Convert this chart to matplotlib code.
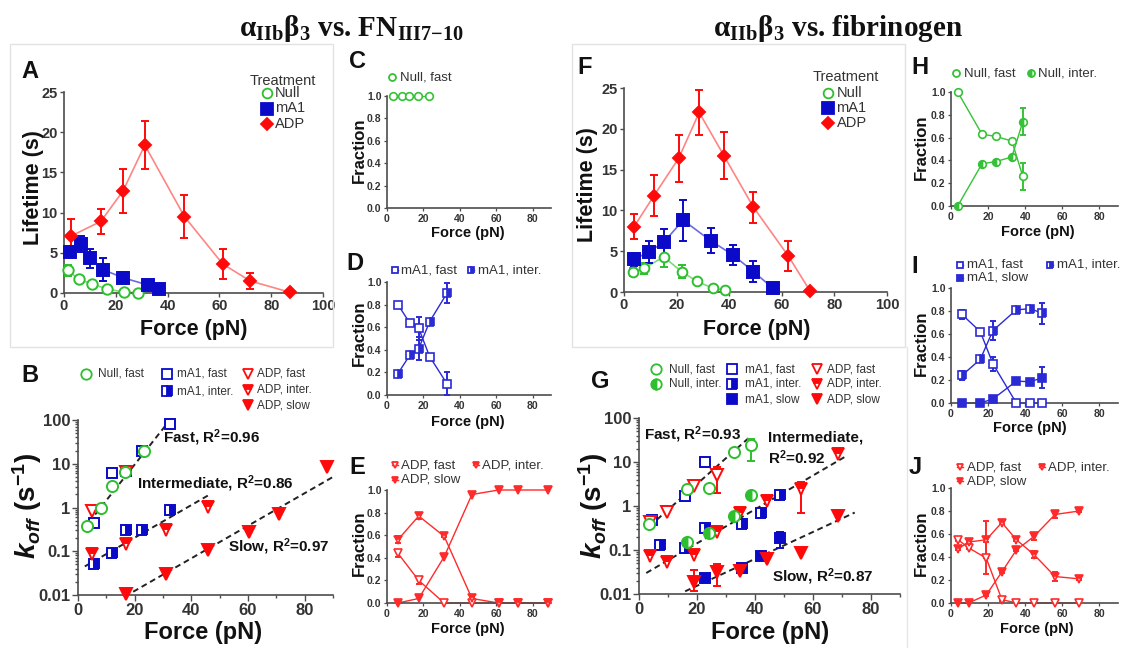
import numpy as np
import matplotlib
matplotlib.use("Agg")
import matplotlib.pyplot as plt
from matplotlib.lines import Line2D
from matplotlib.patches import Rectangle
from matplotlib.ticker import FixedLocator, LogLocator, NullFormatter

W, H = 1125, 648

plt.rcParams['font.family'] = ['Liberation Sans', 'DejaVu Sans']
plt.rcParams['font.weight'] = 'bold'
plt.rcParams['mathtext.fontset'] = 'custom'
plt.rcParams['mathtext.it'] = 'Liberation Sans:style=italic:weight=bold'
plt.rcParams['mathtext.rm'] = 'Liberation Sans:weight=bold'
plt.rcParams['mathtext.bf'] = 'Liberation Sans:weight=bold'

GREEN, GREEN_L = '#2dbf2d', '#7fd97f'
BLUE, BLUE_L = '#0a0ac8', '#6b6be0'
RED, RED_L = '#ff0a0a', '#ff8585'
AXC = '#4d4d4d'

# ---------------- FN(III7-10): lifetime vs force ----------------
a_null_x = [1.5, 5.8, 11.0, 16.6, 23.2, 28.4]
a_null_y = [2.8, 1.7, 1.1, 0.5, 0.1, 0.05]
a_null_err = [0.7, 0.2, 0.2, 0.1, 0.0, 0.0]
a_mA1_x = [2.2, 6.5, 9.9, 15.1, 22.8, 32.3, 36.8]
a_mA1_y = [5.1, 6.1, 4.3, 2.9, 1.9, 1.0, 0.5]
a_mA1_err = [0.4, 1.0, 1.2, 1.4, 0.7, 0.5, 0.2]
a_adp_x = [2.8, 14.2, 22.8, 31.2, 46.5, 61.3, 71.9, 87.1]
a_adp_y = [7.1, 8.9, 12.7, 18.4, 9.5, 3.6, 1.5, 0.1]
a_adp_err = [2.1, 1.6, 2.7, 3.0, 2.7, 1.9, 1.0, 0.0]

# ---------------- FN(III7-10): off-rates ----------------
b_null_fast_x = [3.0, 8.2, 12.0, 16.6, 23.2]
b_null_fast_y = [0.38, 0.95, 3.1, 6.6, 19.5]
b_mA1_x = [5.6, 12.0, 17.0, 22.6, 32.6]
b_mA1_fast_y = [0.44, 6.0, 7.0, 20.0, 82.0]
b_mA1_inter_y = [0.052, 0.093, 0.30, 0.30, 0.90]
b_adp_fast_x = [5.0, 17.0]
b_adp_fast_y = [0.85, 6.5]
b_adp_inter_x = [5.0, 17.0, 31.0, 46.0]
b_adp_inter_y = [0.085, 0.15, 0.31, 1.05]
b_adp_slow_x = [17.0, 31.0, 46.0, 60.5, 71.0, 88.0]
b_adp_slow_y = [0.0105, 0.031, 0.105, 0.28, 0.70, 8.5]
b_fast_fit_x, b_fast_fit_y = [1.8, 32.0], [0.31, 92.0]
b_inter_fit_x, b_inter_fit_y = [2.4, 46.0], [0.045, 1.9]
b_slow_fit_x, b_slow_fit_y = [16.5, 90.0], [0.0092, 5.0]

# ---------------- FN(III7-10): state fractions ----------------
c_x = [3.1, 8.2, 12.2, 16.8, 23.2]
c_fast = [1.0, 1.0, 1.0, 1.0, 1.0]
d_x = [6.0, 12.4, 17.4, 23.4, 32.9]
d_fast = [0.80, 0.64, 0.59, 0.34, 0.10]
d_fast_err = [0.01, 0.02, 0.10, 0.02, 0.10]
d_inter = [0.19, 0.35, 0.41, 0.65, 0.90]
d_inter_err = [0.01, 0.02, 0.10, 0.02, 0.09]
e_x = [6.0, 17.4, 31.4, 46.6, 61.2, 71.8, 88.6]
e_fast = [0.44, 0.20, 0.0, 0.0, 0.0, 0.0, 0.0]
e_fast_err = [0.03, 0.03, 0.0, 0.0, 0.0, 0.0, 0.0]
e_inter = [0.56, 0.77, 0.59, 0.04, 0.0, 0.0, 0.0]
e_inter_err = [0.03, 0.03, 0.01, 0.01, 0.0, 0.0, 0.0]
e_slow = [0.0, 0.04, 0.41, 0.96, 1.0, 1.0, 1.0]

# ---------------- fibrinogen: lifetime vs force ----------------
f_null_x = [3.4, 7.6, 15.1, 21.9, 27.8, 33.9, 38.4]
f_null_y = [2.4, 2.9, 4.3, 2.5, 1.3, 0.45, 0.25]
f_null_err = [0.5, 0.7, 1.2, 0.8, 0.2, 0.1, 0.1]
f_mA1_x = [3.8, 9.4, 15.1, 22.5, 32.9, 41.6, 49.2, 56.5]
f_mA1_y = [4.0, 4.9, 6.1, 8.8, 6.3, 4.5, 2.5, 0.5]
f_mA1_err = [0.8, 1.3, 1.6, 2.5, 1.5, 1.2, 1.3, 0.1]
f_adp_x = [3.8, 11.4, 20.8, 28.6, 38.0, 49.2, 62.5, 70.8]
f_adp_y = [8.0, 11.8, 16.4, 22.0, 16.7, 10.4, 4.4, 0.1]
f_adp_err = [1.5, 2.5, 2.9, 2.8, 2.9, 1.9, 1.8, 0.0]

# ---------------- fibrinogen: off-rates ----------------
g_null_x = [3.6, 16.7, 24.2, 32.8, 38.7]
g_null_fast_y = [0.39, 2.4, 2.5, 17.0, 24.0]
g_null_fast_lo = [0.0, 0.0, 0.0, 0.0, 13.5]
g_null_fast_hi = [0.0, 0.0, 0.0, 0.0, 10.0]
g_null_inter_x = [16.7, 24.2, 32.8, 38.7]
g_null_inter_y = [0.15, 0.24, 0.60, 1.75]
g_mA1_fast_x = [4.6, 15.9, 22.8]
g_mA1_fast_y = [0.48, 1.7, 10.0]
g_mA1_inter_x = [7.4, 15.9, 22.8, 35.6, 42.2, 48.7]
g_mA1_inter_y = [0.13, 0.11, 0.32, 0.39, 0.68, 1.8]
g_mA1_slow_x = [22.8, 35.6, 42.2, 48.7]
g_mA1_slow_y = [0.023, 0.038, 0.074, 0.19]
g_mA1_slow_lo = [0.0, 0.0, 0.0, 0.08]
g_mA1_slow_hi = [0.0, 0.0, 0.0, 0.06]
g_adp_fast_x = [3.7, 9.7, 18.8, 26.9]
g_adp_fast_y = [0.44, 0.74, 2.9, 5.0]
g_adp_fast_lo = [0.0, 0.0, 0.0, 3.0]
g_adp_fast_hi = [0.0, 0.0, 0.0, 2.5]
g_adp_inter_x = [3.7, 9.7, 18.8, 26.9, 35.0, 44.3, 55.7, 68.6]
g_adp_inter_y = [0.074, 0.053, 0.077, 0.26, 0.68, 1.3, 2.4, 15.0]
g_adp_inter_lo = [0.0, 0.0, 0.0, 0.0, 0.0, 0.0, 1.7, 0.0]
g_adp_inter_hi = [0.0, 0.0, 0.0, 0.0, 0.0, 0.0, 1.1, 0.0]
g_adp_slow_x = [18.8, 26.9, 35.0, 44.3, 55.7, 68.6]
g_adp_slow_y = [0.019, 0.032, 0.034, 0.062, 0.085, 0.58]
g_adp_slow_lo = [0.007, 0.017, 0.0, 0.0, 0.0, 0.0]
g_adp_slow_hi = [0.016, 0.016, 0.0, 0.0, 0.0, 0.0]
g_fast_fit_x, g_fast_fit_y = [3.7, 38.5], [0.35, 38.5]
g_inter_fit_x, g_inter_fit_y = [2.5, 71.0], [0.030, 13.1]
g_slow_fit_x, g_slow_fit_y = [15.9, 74.4], [0.0115, 0.71]

# ---------------- fibrinogen: state fractions ----------------
h_x = [3.6, 16.7, 24.2, 32.8, 38.7]
h_fast = [1.0, 0.63, 0.61, 0.57, 0.26]
h_fast_err = [0.0, 0.01, 0.01, 0.01, 0.12]
h_inter = [0.0, 0.37, 0.39, 0.43, 0.74]
h_inter_err = [0.0, 0.01, 0.01, 0.01, 0.12]
i_x = [5.9, 15.8, 22.6, 35.2, 42.7, 49.3]
i_fast = [0.77, 0.62, 0.34, 0.0, 0.0, 0.0]
i_fast_err = [0.04, 0.01, 0.06, 0.0, 0.0, 0.0]
i_inter = [0.24, 0.38, 0.63, 0.81, 0.82, 0.78]
i_inter_err = [0.04, 0.02, 0.08, 0.02, 0.02, 0.09]
i_slow = [0.0, 0.0, 0.035, 0.19, 0.185, 0.22]
i_slow_err = [0.0, 0.0, 0.01, 0.01, 0.01, 0.09]
j_x = [3.8, 9.5, 19.0, 27.4, 35.2, 44.8, 56.1, 69.1]
j_fast = [0.55, 0.48, 0.39, 0.03, 0.0, 0.0, 0.0, 0.0]
j_fast_err = [0.01, 0.01, 0.14, 0.01, 0.0, 0.0, 0.0, 0.0]
j_inter = [0.47, 0.53, 0.55, 0.70, 0.55, 0.42, 0.23, 0.21]
j_inter_err = [0.01, 0.01, 0.16, 0.01, 0.01, 0.03, 0.04, 0.01]
j_slow = [0.0, 0.0, 0.07, 0.27, 0.46, 0.58, 0.77, 0.80]
j_slow_err = [0.0, 0.0, 0.01, 0.01, 0.01, 0.03, 0.03, 0.01]

fig = plt.figure(figsize=(W / 100, H / 100), dpi=100)
fig.patch.set_facecolor('white')


def fx(x):
    return x / W


def fy(y):
    return 1 - y / H


def make_ax(l, t, r, b, size):
    ax = fig.add_axes([fx(l), fy(b), (r - l) / W, (b - t) / H])
    ax.patch.set_alpha(0)
    for s in ('top', 'right'):
        ax.spines[s].set_visible(False)
    for s in ('left', 'bottom'):
        ax.spines[s].set_color(AXC)
        ax.spines[s].set_linewidth(1.2)
    ax.tick_params(which='both', direction='out', color=AXC, labelcolor='#333333',
                   labelsize=size, width=1.0, length=3, pad=1.5)
    return ax


def errbars(ax, x, y, lo, hi, color, cap, lw=1.4):
    x, y, lo, hi = map(np.asarray, (x, y, lo, hi))
    keep = (lo > 0) | (hi > 0)
    if keep.any():
        ax.errorbar(x[keep], y[keep], yerr=[lo[keep], hi[keep]], fmt='none',
                    ecolor=color, elinewidth=lw, capsize=cap, capthick=lw, zorder=3)


def series(ax, x, y, color, line_color=None, err=None, marker='o', ms=6,
           fill='white', fillstyle='full', mew=1.4, lw=1.2, cap=3.0):
    if err is not None:
        errbars(ax, x, y, err, err, color, cap)
    if line_color is not None:
        ax.plot(x, y, color=line_color, lw=lw, zorder=2, clip_on=False)
    ax.plot(x, y, ls='none', marker=marker, ms=ms, mec=color, mew=mew,
            mfc=(color if fillstyle != 'full' else fill), fillstyle=fillstyle,
            markerfacecoloralt='white', zorder=4, clip_on=False)


def fig_marker(x, y, color, marker, ms, fill='white', fillstyle='full', mew=1.3, seg=0):
    if seg:
        fig.add_artist(Line2D([fx(x - seg), fx(x + seg)], [fy(y), fy(y)], color=color,
                              lw=1.0, transform=fig.transFigure))
    fig.add_artist(Line2D([fx(x)], [fy(y)], ls='none', marker=marker, ms=ms, mec=color,
                          mew=mew, mfc=(color if fillstyle != 'full' else fill),
                          fillstyle=fillstyle, markerfacecoloralt='white',
                          transform=fig.transFigure))


def ftext(x, y, s, size, ha='left', va='center', weight='bold', color='#111111',
          rotation=0, **kw):
    fig.text(fx(x), fy(y), s, fontsize=size, ha=ha, va=va, weight=weight, color=color,
             rotation=rotation, **kw)


def lifetime_axes(l, t, r, b):
    ax = make_ax(l, t, r, b, 10.5)
    ax.set_xlim(0, 100)
    ax.set_ylim(0, 25)
    ax.set_xticks(np.arange(0, 101, 20))
    ax.set_yticks(np.arange(0, 26, 5))
    return ax


def koff_axes(l, t, r, b):
    ax = make_ax(l, t, r, b, 12)
    ax.set_xlim(0, 90)
    ax.set_yscale('log')
    ax.set_ylim(0.01, 100)
    ax.set_xticks([0, 20, 40, 60, 80])
    ax.xaxis.set_minor_locator(FixedLocator(np.arange(0, 91, 10)))
    ax.yaxis.set_major_locator(FixedLocator([0.01, 0.1, 1, 10, 100]))
    ax.set_yticklabels(['0.01', '0.1', '1', '10', '100'])
    ax.yaxis.set_minor_locator(LogLocator(base=10, subs=np.arange(2, 10)))
    ax.yaxis.set_minor_formatter(NullFormatter())
    ax.tick_params(which='major', length=4)
    ax.tick_params(which='minor', length=2)
    return ax


def frac_axes(l, t, r, b):
    ax = make_ax(l, t, r, b, 7.5)
    ax.set_xlim(0, 90)
    ax.set_ylim(0, 1.0)
    ax.set_xticks([0, 20, 40, 60, 80])
    ax.set_yticks(np.arange(0, 1.01, 0.2))
    ax.set_yticklabels(['0.0', '0.2', '0.4', '0.6', '0.8', '1.0'])
    ax.tick_params(length=2.5, width=0.9)
    return ax


def fit_line(ax, x, y):
    ax.plot(x, y, ls=(0, (3, 2)), color='#222222', lw=1.4, zorder=1)


# faint frames around the lifetime panels
fig.add_artist(Rectangle((fx(10), fy(347)), 323 / W, 303 / H, transform=fig.transFigure,
                         fill=False, ec='#e2e2e2', lw=1.0))
fig.add_artist(Rectangle((fx(572), fy(347)), 333 / W, 303 / H, transform=fig.transFigure,
                         fill=False, ec='#e2e2e2', lw=1.0))
fig.add_artist(Line2D([fx(907), fx(907)], [fy(347), fy(648)], color='#e6e6e6', lw=1.0,
                      transform=fig.transFigure))

# titles
ftext(352, 28, r'α$_{\mathregular{IIb}}$β$_{\mathregular{3}}$ vs. FN$_{\mathregular{III7{-}10}}$',
      21, ha='center', family='Liberation Serif')
ftext(838, 28, r'α$_{\mathregular{IIb}}$β$_{\mathregular{3}}$ vs. fibrinogen',
      21, ha='center', family='Liberation Serif')

# ---------- panel A ----------
ax = lifetime_axes(64, 92, 323, 293)
series(ax, a_null_x, a_null_y, GREEN, GREEN_L, a_null_err, 'o', 7.5)
series(ax, a_mA1_x, a_mA1_y, BLUE, BLUE_L, a_mA1_err, 's', 9, fill=BLUE)
series(ax, a_adp_x, a_adp_y, RED, RED_L, a_adp_err, 'D', 6, fill=RED)
ftext(30, 72, 'A', 17, ha='center')
ftext(33, 188, 'Lifetime (s)', 15.5, ha='center', rotation=90)
ftext(194, 330, 'Force (pN)', 15.5, ha='center')
ftext(250, 81, 'Treatment', 10.5, weight='normal', color='#333333')
fig_marker(266.5, 93, GREEN, 'o', 7)
fig_marker(266.5, 108.5, BLUE, 's', 8, fill=BLUE)
fig_marker(266.5, 124, RED, 'D', 6, fill=RED)
for yy, s in ((93, 'Null'), (108.5, 'mA1'), (124, 'ADP')):
    ftext(275, yy, s, 10.5, weight='normal', color='#333333')

# ---------- panel F ----------
ax = lifetime_axes(624, 88, 887, 292)
series(ax, f_null_x, f_null_y, GREEN, GREEN_L, f_null_err, 'o', 7)
series(ax, f_mA1_x, f_mA1_y, BLUE, BLUE_L, f_mA1_err, 's', 9, fill=BLUE)
series(ax, f_adp_x, f_adp_y, RED, RED_L, f_adp_err, 'D', 6, fill=RED)
ftext(585, 68, 'F', 17, ha='center')
ftext(588, 185, 'Lifetime (s)', 15.5, ha='center', rotation=90)
ftext(757, 330, 'Force (pN)', 15.5, ha='center')
ftext(813, 77, 'Treatment', 10.5, weight='normal', color='#333333')
fig_marker(828, 93, GREEN, 'o', 7)
fig_marker(828, 108, BLUE, 's', 8, fill=BLUE)
fig_marker(828, 123, RED, 'D', 6, fill=RED)
for yy, s in ((93, 'Null'), (108, 'mA1'), (123, 'ADP')):
    ftext(836.5, yy, s, 10.5, weight='normal', color='#333333')

# ---------- panel B ----------
ax = koff_axes(78, 420, 333, 595)
fit_line(ax, b_fast_fit_x, b_fast_fit_y)
fit_line(ax, b_inter_fit_x, b_inter_fit_y)
fit_line(ax, b_slow_fit_x, b_slow_fit_y)
series(ax, b_mA1_x, b_mA1_fast_y, BLUE, None, None, 's', 7.5)
series(ax, b_mA1_x, b_mA1_inter_y, BLUE, None, None, 's', 7.5, fillstyle='right')
series(ax, b_adp_fast_x, b_adp_fast_y, RED, None, None, 'v', 8)
series(ax, b_adp_inter_x, b_adp_inter_y, RED, None, None, 'v', 8, fillstyle='top')
series(ax, b_adp_slow_x, b_adp_slow_y, RED, None, None, 'v', 8, fill=RED)
series(ax, b_null_fast_x, b_null_fast_y, GREEN, None, None, 'o', 8)
ftext(30, 376, 'B', 17, ha='center')
ftext(27, 506, r'$k_{off}$ (s$^{\mathregular{-1}}$)', 20, ha='center', rotation=90)
ftext(203, 633, 'Force (pN)', 17, ha='center')
ftext(163, 438, r'Fast, R$^{\mathregular{2}}$=0.96', 11)
ftext(137, 484, r'Intermediate, R$^{\mathregular{2}}$=0.86', 11)
ftext(228, 547, r'Slow, R$^{\mathregular{2}}$=0.97', 11)
fig_marker(86, 374, GREEN, 'o', 7.5)
ftext(98, 374, 'Null, fast', 8.5, weight='normal', color='#333333')
fig_marker(167, 374, BLUE, 's', 7)
ftext(177, 374, 'mA1, fast', 8.5, weight='normal', color='#333333')
fig_marker(167, 391, BLUE, 's', 7, fillstyle='right')
ftext(177, 391, 'mA1, inter.', 8.5, weight='normal', color='#333333')
fig_marker(248, 374, RED, 'v', 7.5)
ftext(257, 374, 'ADP, fast', 8.5, weight='normal', color='#333333')
fig_marker(248, 390, RED, 'v', 7.5, fillstyle='top')
ftext(257, 390, 'ADP, inter.', 8.5, weight='normal', color='#333333')
fig_marker(248, 405, RED, 'v', 7.5, fill=RED)
ftext(257, 405, 'ADP, slow', 8.5, weight='normal', color='#333333')

# ---------- panel G ----------
ax = koff_axes(639, 418, 900, 594)
fit_line(ax, g_fast_fit_x, g_fast_fit_y)
fit_line(ax, g_inter_fit_x, g_inter_fit_y)
fit_line(ax, g_slow_fit_x, g_slow_fit_y)
errbars(ax, g_null_x, g_null_fast_y, g_null_fast_lo, g_null_fast_hi, GREEN, 3)
errbars(ax, g_mA1_slow_x, g_mA1_slow_y, g_mA1_slow_lo, g_mA1_slow_hi, BLUE, 3)
errbars(ax, g_adp_fast_x, g_adp_fast_y, g_adp_fast_lo, g_adp_fast_hi, RED, 3)
errbars(ax, g_adp_inter_x, g_adp_inter_y, g_adp_inter_lo, g_adp_inter_hi, RED, 3)
errbars(ax, g_adp_slow_x, g_adp_slow_y, g_adp_slow_lo, g_adp_slow_hi, RED, 3)
series(ax, g_mA1_fast_x, g_mA1_fast_y, BLUE, None, None, 's', 7.5)
series(ax, g_mA1_inter_x, g_mA1_inter_y, BLUE, None, None, 's', 7.5, fillstyle='right')
series(ax, g_mA1_slow_x, g_mA1_slow_y, BLUE, None, None, 's', 7.5, fill=BLUE)
series(ax, g_adp_fast_x, g_adp_fast_y, RED, None, None, 'v', 8)
series(ax, g_adp_inter_x, g_adp_inter_y, RED, None, None, 'v', 8, fillstyle='top')
series(ax, g_adp_slow_x, g_adp_slow_y, RED, None, None, 'v', 8, fill=RED)
series(ax, g_null_x, g_null_fast_y, GREEN, None, None, 'o', 8)
series(ax, g_null_inter_x, g_null_inter_y, GREEN, None, None, 'o', 8, fillstyle='left')
ftext(600, 382, 'G', 17, ha='center')
ftext(593, 506, r'$k_{off}$ (s$^{\mathregular{-1}}$)', 20, ha='center', rotation=90)
ftext(770, 633, 'Force (pN)', 17, ha='center')
ftext(644, 435, r'Fast, R$^{\mathregular{2}}$=0.93', 11)
ftext(768, 438, 'Intermediate,', 11)
ftext(768, 458, r'R$^{\mathregular{2}}$=0.92', 11)
ftext(772, 577, r'Slow, R$^{\mathregular{2}}$=0.87', 11)
fig_marker(656, 369, GREEN, 'o', 7.5)
ftext(669, 369, 'Null, fast', 8.5, weight='normal', color='#333333')
fig_marker(656, 384, GREEN, 'o', 7.5, fillstyle='left')
ftext(669, 384, 'Null, inter.', 8.5, weight='normal', color='#333333')
fig_marker(732, 369, BLUE, 's', 7)
ftext(745, 369, 'mA1, fast', 8.5, weight='normal', color='#333333')
fig_marker(732, 384, BLUE, 's', 7, fillstyle='right')
ftext(745, 384, 'mA1, inter.', 8.5, weight='normal', color='#333333')
fig_marker(732, 399, BLUE, 's', 7, fill=BLUE)
ftext(745, 399, 'mA1, slow', 8.5, weight='normal', color='#333333')
fig_marker(817, 369, RED, 'v', 7.5)
ftext(827, 369, 'ADP, fast', 8.5, weight='normal', color='#333333')
fig_marker(817, 384, RED, 'v', 7.5, fillstyle='top')
ftext(827, 384, 'ADP, inter.', 8.5, weight='normal', color='#333333')
fig_marker(817, 399, RED, 'v', 7.5, fill=RED)
ftext(827, 399, 'ADP, slow', 8.5, weight='normal', color='#333333')

# ---------- fraction panels ----------
FR_KW = dict(ms=5.5, mew=1.2, lw=1.0, cap=2.2)
BLUE_M, RED_M, GREEN_M = '#2b2bd6', '#ff2a2a', '#36c236'


def frac_labels(letter, lx, ly, ylab_y, xlab_x, xlab_y):
    ftext(lx, ly, letter, 17, ha='center')
    ftext(359, ylab_y, 'Fraction', 12, ha='center', rotation=90) if lx < 600 else \
        ftext(921, ylab_y, 'Fraction', 12, ha='center', rotation=90)
    ftext(xlab_x, xlab_y, 'Force (pN)', 10.5, ha='center')


# C
ax = frac_axes(387, 96, 551, 208)
series(ax, c_x, c_fast, GREEN_M, GREEN_M, None, 'o', **FR_KW)
frac_labels('C', 358, 62, 150, 468, 233)
fig_marker(392, 77, GREEN_M, 'o', 5, seg=3)
ftext(400, 77, 'Null, fast', 9.5, weight='normal', color='#333333')

# D
ax = frac_axes(387, 282, 551, 395)
series(ax, d_x, d_fast, BLUE_M, BLUE_M, d_fast_err, 's', **FR_KW)
series(ax, d_x, d_inter, BLUE_M, BLUE_M, d_inter_err, 's', fillstyle='right', **FR_KW)
frac_labels('D', 355, 263, 333, 468, 422)
fig_marker(395, 270, BLUE_M, 's', 5, seg=3)
ftext(401, 270, 'mA1, fast', 9.5, weight='normal', color='#333333')
fig_marker(471, 270, BLUE_M, 's', 5, fillstyle='right', seg=3)
ftext(478, 270, 'mA1, inter.', 9.5, weight='normal', color='#333333')

# E
ax = frac_axes(387, 490, 551, 603)
series(ax, e_x, e_fast, RED_M, RED_M, e_fast_err, 'v', **FR_KW)
series(ax, e_x, e_inter, RED_M, RED_M, e_inter_err, 'v', fillstyle='top', **FR_KW)
series(ax, e_x, e_slow, RED_M, RED_M, None, 'v', fill=RED_M, **FR_KW)
frac_labels('E', 357, 467, 543, 468, 629)
fig_marker(395, 465, RED_M, 'v', 5, seg=3)
ftext(401, 465, 'ADP, fast', 9.5, weight='normal', color='#333333')
fig_marker(476, 465, RED_M, 'v', 5, fillstyle='top', seg=3)
ftext(482, 465, 'ADP, inter.', 9.5, weight='normal', color='#333333')
fig_marker(395, 480, RED_M, 'v', 5, fill=RED_M, seg=3)
ftext(401, 480, 'ADP, slow', 9.5, weight='normal', color='#333333')

# H
ax = frac_axes(951, 92, 1118, 206)
series(ax, h_x, h_fast, GREEN_M, GREEN_M, h_fast_err, 'o', **FR_KW)
series(ax, h_x, h_inter, GREEN_M, GREEN_M, h_inter_err, 'o', fillstyle='left', **FR_KW)
frac_labels('H', 920, 67, 147, 1038, 232)
fig_marker(956, 73, GREEN_M, 'o', 5, seg=3)
ftext(964, 73, 'Null, fast', 9.5, weight='normal', color='#333333')
fig_marker(1031, 73, GREEN_M, 'o', 5, fillstyle='left', seg=3)
ftext(1038, 73, 'Null, inter.', 9.5, weight='normal', color='#333333')

# I
ax = frac_axes(951, 288, 1118, 403)
series(ax, i_x, i_fast, BLUE_M, BLUE_M, i_fast_err, 's', **FR_KW)
series(ax, i_x, i_inter, BLUE_M, BLUE_M, i_inter_err, 's', fillstyle='right', **FR_KW)
series(ax, i_x, i_slow, BLUE_M, BLUE_M, i_slow_err, 's', fill=BLUE_M, **FR_KW)
frac_labels('I', 915, 267, 343, 1030, 428)
fig_marker(960, 265, BLUE_M, 's', 5, seg=3)
ftext(967, 265, 'mA1, fast', 9.5, weight='normal', color='#333333')
fig_marker(1050, 265, BLUE_M, 's', 5, fillstyle='right', seg=3)
ftext(1057, 265, 'mA1, inter.', 9.5, weight='normal', color='#333333')
fig_marker(960, 278, BLUE_M, 's', 5, fill=BLUE_M, seg=3)
ftext(967, 278, 'mA1, slow', 9.5, weight='normal', color='#333333')

# J
ax = frac_axes(951, 488, 1118, 603)
series(ax, j_x, j_fast, RED_M, RED_M, j_fast_err, 'v', **FR_KW)
series(ax, j_x, j_inter, RED_M, RED_M, j_inter_err, 'v', fillstyle='top', **FR_KW)
series(ax, j_x, j_slow, RED_M, RED_M, j_slow_err, 'v', fill=RED_M, **FR_KW)
frac_labels('J', 915, 467, 543, 1037, 629)
fig_marker(960, 467, RED_M, 'v', 5, seg=3)
ftext(967, 467, 'ADP, fast', 9.5, weight='normal', color='#333333')
fig_marker(1042, 467, RED_M, 'v', 5, fillstyle='top', seg=3)
ftext(1048, 467, 'ADP, inter.', 9.5, weight='normal', color='#333333')
fig_marker(960, 481, RED_M, 'v', 5, fill=RED_M, seg=3)
ftext(967, 481, 'ADP, slow', 9.5, weight='normal', color='#333333')

fig.savefig('out.png', dpi=100, facecolor='white')
